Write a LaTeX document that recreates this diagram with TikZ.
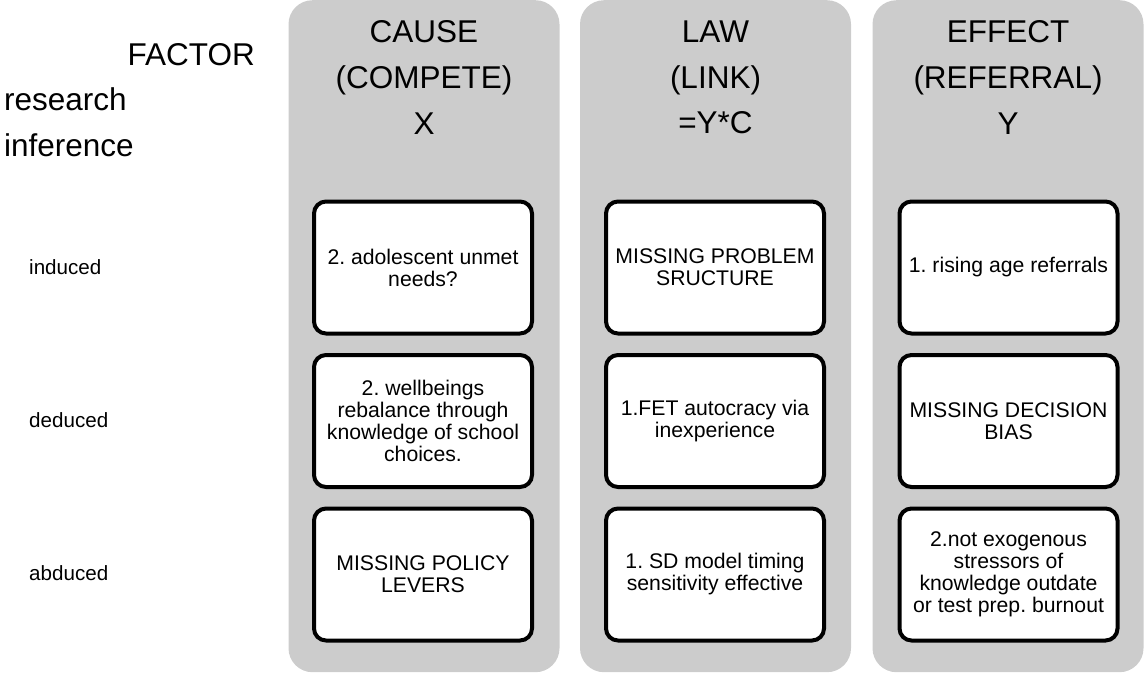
\documentclass[tikz,border=0pt]{standalone}
\usepackage{fontspec}
\setmainfont{Liberation Sans}
\usetikzlibrary{positioning}
\definecolor{colgray}{HTML}{CCCCCC}
\frenchspacing

\begin{document}
\begin{tikzpicture}[
    x=1pt, y=-1pt,
    column/.style={rectangle, fill=colgray, rounded corners=24pt, minimum width=271pt, minimum height=672pt, anchor=north, inner sep=0pt},
    header/.style={anchor=north, inner sep=0pt, align=center, font=\fontsize{31.5}{45.7}\selectfont},
    cell/.style={rectangle, draw=black, fill=white, line width=4pt, rounded corners=12pt, minimum width=218pt, minimum height=132pt, text width=201pt, align=flush center, font=\fontsize{21.2}{22}\selectfont, inner sep=0pt},
    rowlabel/.style={anchor=west, inner sep=0pt, font=\fontsize{20.6}{24}\selectfont},
    node distance=17.5pt
]
\useasboundingbox (0,0) rectangle (1145,672);

% columns
\node[column] (cause) at (424,0) {};
\node[column] (law) at (715.5,0) {};
\node[column] (effect) at (1008,0) {};

% headings
\node[header, anchor=base east] (factor) at (255,65.3) {FACTOR};
\node[header, anchor=base west] (research) at (4,110) {research};
\node[header, anchor=base west] (inference) at (4,156.7) {inference};
\node[header] (causehd) at (424,20.5) {CAUSE\\(COMPETE)\\X};
\node[header] (lawhd) at (715.5,20.5) {LAW\\(LINK)\\=Y*C};
\node[header] (effecthd) at (1008,20.5) {EFFECT\\(REFERRAL)\\Y};

% row labels
\node[rowlabel] (induced) at (29,267.5) {induced};
\node[rowlabel] (deduced) at (29,420.5) {deduced};
\node[rowlabel] (abduced) at (29,573.5) {abduced};

% cells
\node[cell] (cause1) at (423,267.5) {2. adolescent unmet needs?};
\node[cell, below=of cause1] (cause2) {2. wellbeings rebalance through knowledge of school choices.};
\node[cell, below=of cause2] (cause3) {MISSING POLICY LEVERS};

\node[cell] (law1) at (715,267.5) {MISSING PROBLEM SRUCTURE};
\node[cell, below=of law1] (law2) {1.FET autocracy via inexperience};
\node[cell, below=of law2] (law3) {1. SD model timing sensitivity effective};

\node[cell] (effect1) at (1008.5,267.5) {1. rising age referrals};
\node[cell, below=of effect1] (effect2) {MISSING DECISION BIAS};
\node[cell, below=of effect2] (effect3) {2.not exogenous stressors of knowledge outdate or test prep. burnout};
\end{tikzpicture}
\end{document}
